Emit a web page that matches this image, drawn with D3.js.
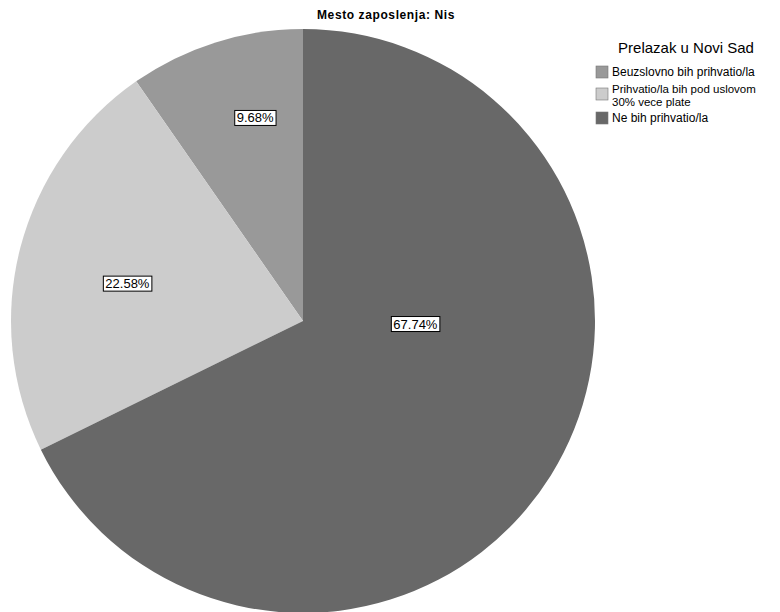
<!DOCTYPE html>
<html>
<head>
<meta charset="utf-8">
<script src="https://cdn.jsdelivr.net/npm/d3@7"></script>
<style>
  html, body { margin: 0; padding: 0; background: #fff; }
  svg { display: block; font-family: "Liberation Sans", Arial, sans-serif; }
</style>
</head>
<body>
<svg id="chart" width="780" height="612"></svg>
<script>
const title = "Mesto zaposlenja: Nis";
const legendTitle = "Prelazak u Novi Sad";
const categories = ["Beuzslovno bih prihvatio/la", "Prihvatio/la bih pod uslovom 30% vece plate", "Ne bih prihvatio/la"];
const legendLines = [["Beuzslovno bih prihvatio/la"], ["Prihvatio/la bih pod uslovom", "30% vece plate"], ["Ne bih prihvatio/la"]];
const values = [9.68, 22.58, 67.74];
const colors = ["#999999", "#cccccc", "#686868"];
// label placement: fraction along slice angle, fraction of radius
const labelAngleFrac = [0.38, 0.53, 0.625];
const labelRadiusFrac = [0.715, 0.615, 0.385];

const svg = d3.select("#chart");
const cx = 303, cy = 321, R = 292;

svg.append("text")
  .attr("x", 386).attr("y", 19)
  .attr("text-anchor", "middle")
  .attr("font-size", 12).attr("font-weight", "bold")
  .attr("letter-spacing", 0.6)
  .text(title);

const pie = d3.pie().sort(null).value(d => d).startAngle(0).endAngle(-2 * Math.PI);
const arcs = pie(values);
const arc = d3.arc().innerRadius(0).outerRadius(R);

const g = svg.append("g").attr("transform", `translate(${cx},${cy})`);
g.selectAll("path.slice").data(arcs).enter().append("path")
  .attr("class", "slice")
  .attr("d", arc)
  .attr("fill", (d, i) => colors[i]);

const labels = g.selectAll("g.lbl").data(arcs).enter().append("g")
  .attr("class", "lbl")
  .attr("transform", (d, i) => {
    const a = d.startAngle + labelAngleFrac[i] * (d.endAngle - d.startAngle);
    const r = R * labelRadiusFrac[i];
    return `translate(${r * Math.sin(a)},${-r * Math.cos(a)})`;
  });
labels.append("text")
  .attr("text-anchor", "middle")
  .attr("dy", "0.36em")
  .attr("font-size", 13)
  .text(d => d.data.toFixed(2) + "%");
labels.each(function() {
  const gg = d3.select(this);
  const bb = gg.select("text").node().getBBox();
  gg.insert("rect", "text")
    .attr("x", bb.x - 2).attr("y", bb.y)
    .attr("width", bb.width + 4).attr("height", bb.height)
    .attr("fill", "#fff").attr("stroke", "#000").attr("stroke-width", 1);
});

// legend
const lg = svg.append("g");
lg.append("text")
  .attr("x", 686).attr("y", 53)
  .attr("text-anchor", "middle")
  .attr("font-size", 15)
  .text(legendTitle);

const itemTops = [];
let y = 66;
legendLines.forEach((lines) => { itemTops.push(y); y += Math.max(22, 12 * lines.length); });

const items = lg.selectAll("g.item").data(categories).enter().append("g")
  .attr("class", "item")
  .attr("transform", (d, i) => `translate(596,${itemTops[i]})`);
items.append("rect")
  .attr("width", 12).attr("height", 12)
  .attr("fill", (d, i) => colors[i])
  .attr("stroke", "#777").attr("stroke-width", 0.6);
items.each(function(d, i) {
  const n = legendLines[i].length;
  const t = d3.select(this).append("text").attr("font-size", n > 1 ? 11.5 : 12).attr("x", 16);
  legendLines[i].forEach((ln, j) => {
    t.append("tspan").attr("x", 16).attr("y", 10 - (n - 1) * 5.5 + j * 13.5).text(ln);
  });
});
</script>
</body>
</html>
